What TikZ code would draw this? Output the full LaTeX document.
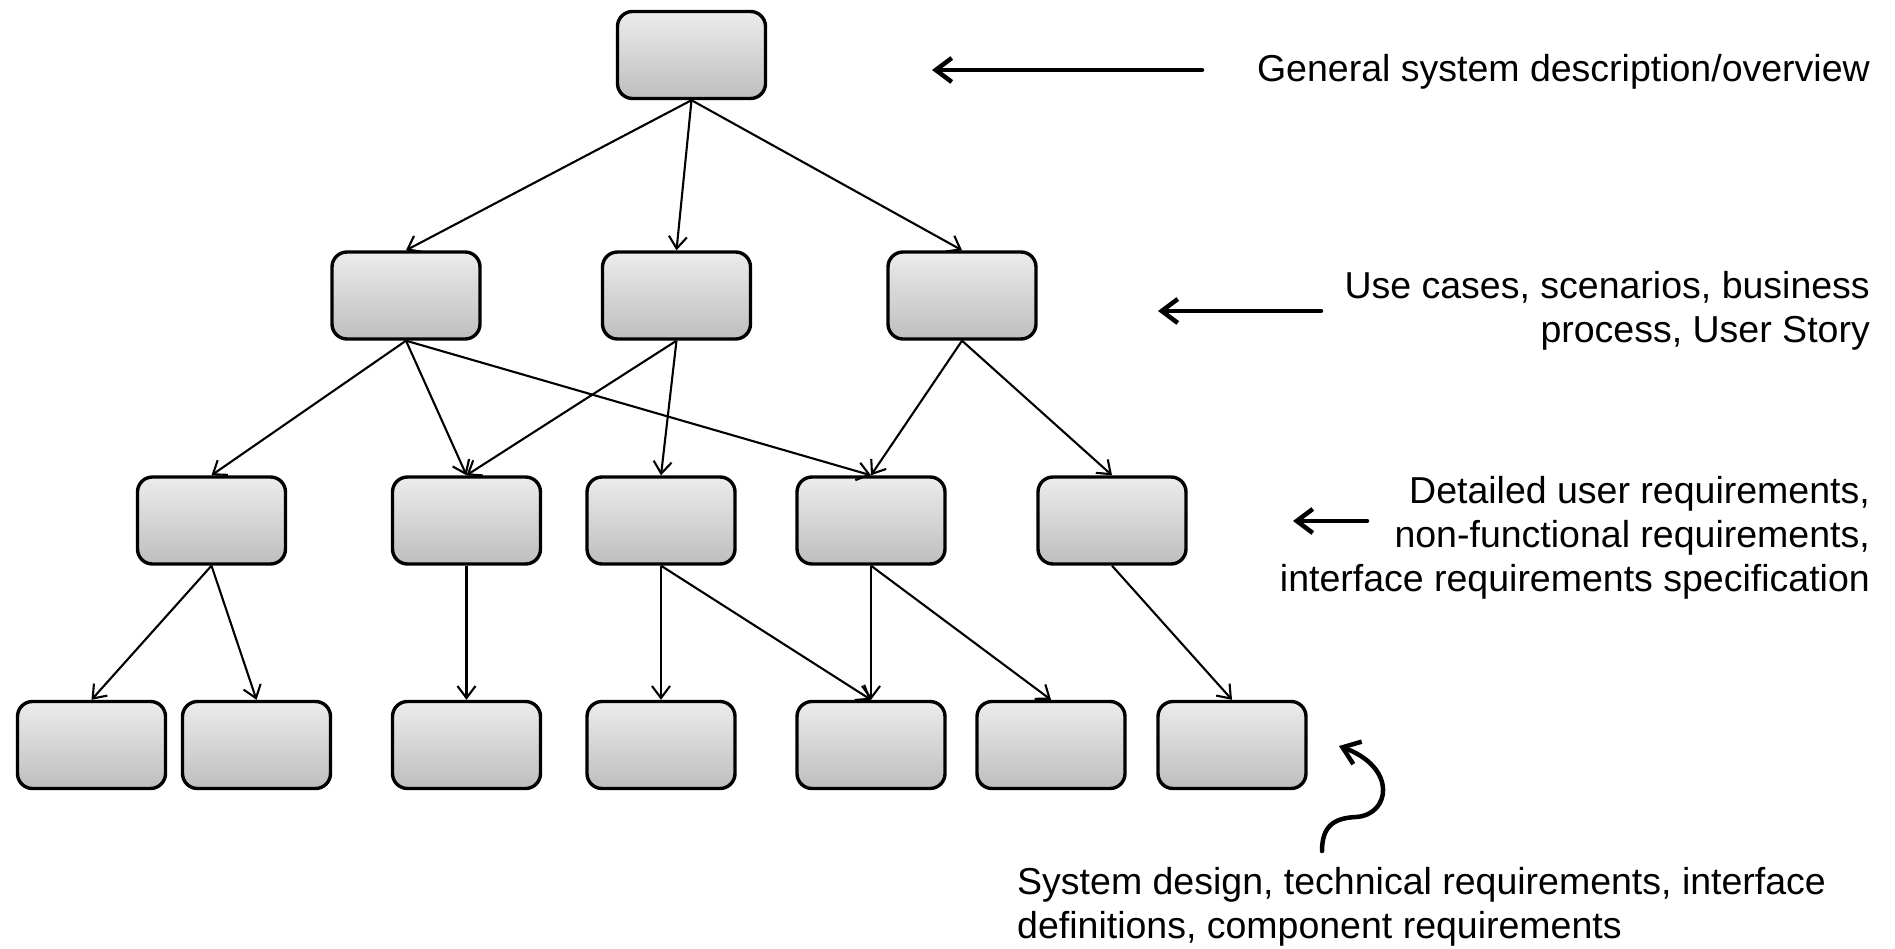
\documentclass[tikz,border=0pt]{standalone}
\usepackage{fontspec}
\setmainfont{Liberation Sans}
\usetikzlibrary{arrows.meta}
\definecolor{boxtop}{RGB}{236,236,236}
\definecolor{boxbot}{RGB}{190,190,190}
\begin{document}
\begin{tikzpicture}[x=1pt,y=-1pt,
  block/.style={draw=black, line width=3.4pt, rounded corners=15pt,
    top color=boxtop, bottom color=boxbot,
    minimum width=148pt, minimum height=87pt, inner sep=0pt},
  link/.style={line width=2.1pt, -{Straight Barb[length=12pt,width=18pt]}},
  pointer/.style={line width=4.5pt, line cap=round,
    -{Straight Barb[length=16pt,width=24pt]}},
  note/.style={font=\fontsize{37.5}{44}\selectfont, inner sep=0pt}]
\useasboundingbox (0,0) rectangle (1895,949);

% level 0
\node[block] (t) at (691.5,55) {};
% level 1
\node[block] (r2a) at (406,295.5) {};
\node[block] (r2b) at (676.5,295.5) {};
\node[block] (r2c) at (962,295.5) {};
% level 2
\node[block] (r3a) at (211.5,520.5) {};
\node[block] (r3b) at (466.5,520.5) {};
\node[block] (r3c) at (661,520.5) {};
\node[block] (r3d) at (871,520.5) {};
\node[block] (r3e) at (1112,520.5) {};
% level 3
\node[block] (r4a) at (91.5,745) {};
\node[block] (r4b) at (256.5,745) {};
\node[block] (r4c) at (466.5,745) {};
\node[block] (r4d) at (661,745) {};
\node[block] (r4e) at (871,745) {};
\node[block] (r4f) at (1051,745) {};
\node[block] (r4g) at (1232,745) {};

% tree connectors
\foreach \a/\b in {t/r2a, t/r2b, t/r2c,
                   r2a/r3a, r2a/r3b, r2a/r3d,
                   r2b/r3b, r2b/r3c,
                   r2c/r3d, r2c/r3e,
                   r3a/r4a, r3a/r4b,
                   r3b/r4c,
                   r3c/r4d, r3c/r4e,
                   r3d/r4e, r3d/r4f,
                   r3e/r4g}
  \draw[link] (\a.south) -- (\b.north);

% level descriptions
\node[note, anchor=base east] (n1) at (1870,82) {General system description/overview};
\node[note, anchor=north east, align=right] (n2) at (1870,271)
  {Use cases, scenarios, business\\process, User Story};
\node[note, anchor=north east, align=right] (n3) at (1870,476)
  {Detailed user requirements,\\non-functional requirements,\\interface requirements specification};
\node[note, anchor=north west, align=left] (n4) at (1017,867)
  {System design, technical requirements, interface\\definitions, component requirements};

% pointers from descriptions to levels
\coordinate (p1s) at (1202,70);  \coordinate (p1e) at (932,70);
\coordinate (p2s) at (1321,311); \coordinate (p2e) at (1158,311);
\coordinate (p3s) at (1367,521); \coordinate (p3e) at (1293,521);
\coordinate (p4s) at (1322,851); \coordinate (p4e) at (1339,746);
\draw[pointer] (p1s) -- (p1e);
\draw[pointer] (p2s) -- (p2e);
\draw[pointer] (p3s) -- (p3e);
\draw[pointer] (p4s) .. controls (1322,826) and (1334,818) .. (1356,817)
  .. controls (1390,815) and (1398,768) .. (p4e);
\end{tikzpicture}
\end{document}
